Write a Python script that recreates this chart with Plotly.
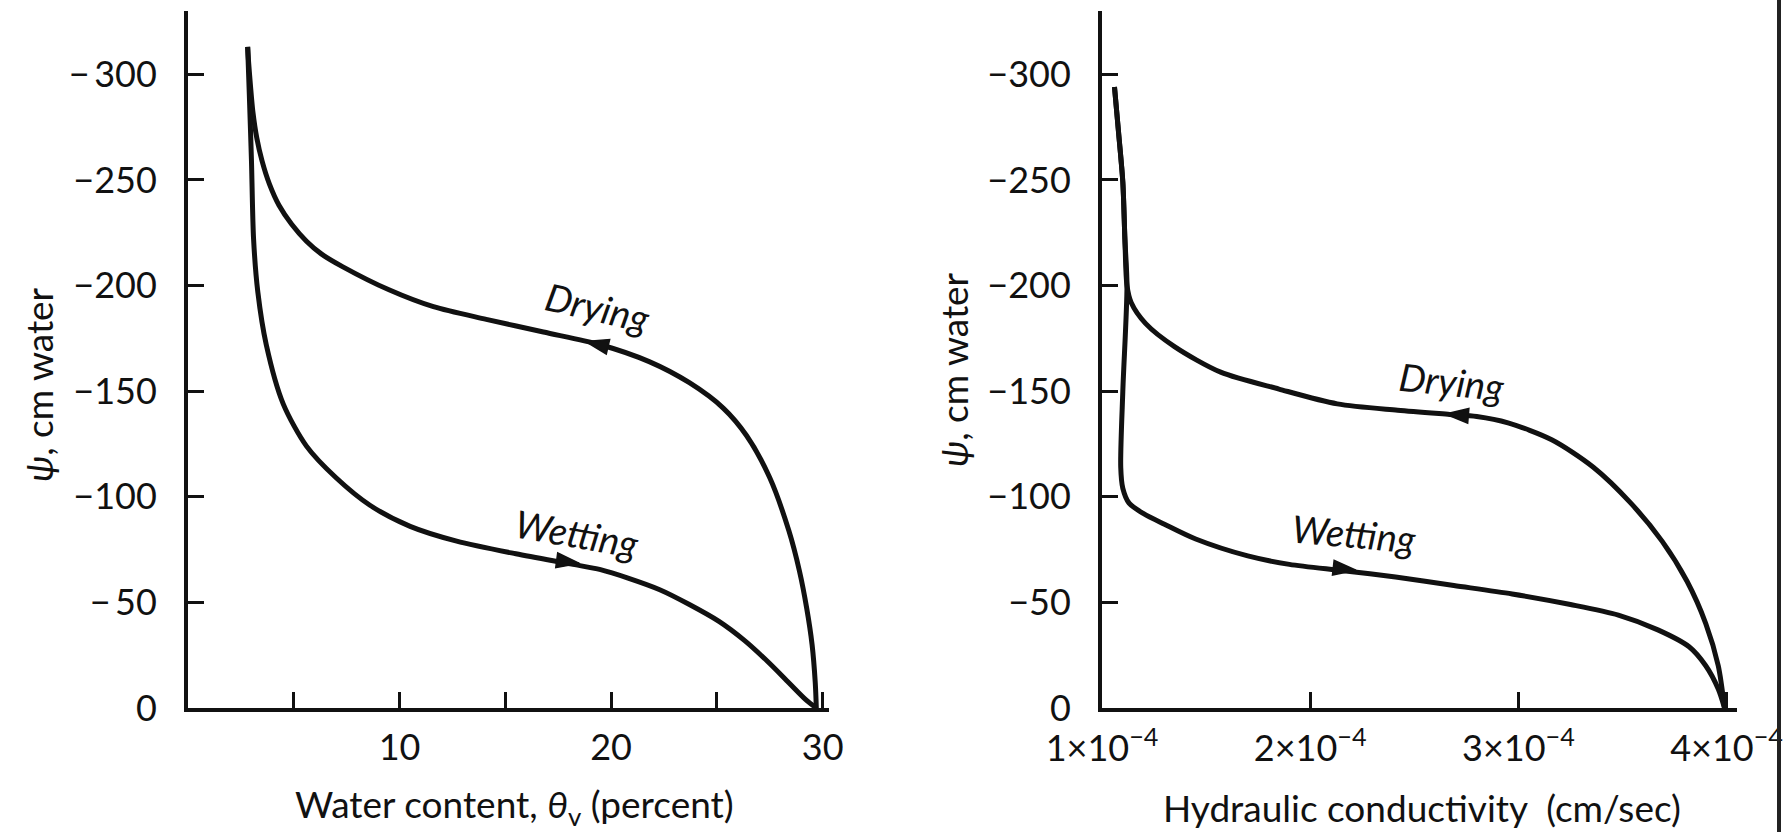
import plotly.graph_objects as go

# ---------------- data ----------------
# Left panel: water content theta_v (percent) vs psi (cm water)
theta_drying = [29.7, 29.65, 29.5, 29.25, 28.9, 28.4, 27.5, 26.4, 25.3, 23.7, 21.8, 19.5,
                16.8, 14.1, 11.6, 9.5, 7.3, 6.3, 5.6, 4.9, 4.3, 3.85, 3.5, 3.25, 3.07,
                2.95, 2.87, 2.82]
psi_theta_drying = [0, -12, -30, -47, -65, -84, -109, -129, -142, -154, -164, -172,
                    -178, -184, -190, -198, -209, -215, -221, -229, -238, -248, -259, -270, -282,
                    -295, -305, -313]

theta_wetting = [2.82, 2.9, 3.0, 3.1, 3.3, 3.7, 4.5, 5.6, 7.0, 8.6, 10.5, 12.7,
                 15.5, 18.2, 19.5, 20.8, 22.3, 23.7, 25.1, 26.3, 27.4, 28.4, 29.2, 29.7]
psi_theta_wetting = [-313, -290, -259, -222, -197, -172, -144, -124, -109, -96, -86, -79,
                     -73, -68, -65.5, -61.5, -56, -49, -41, -32, -22, -12, -4, 0]

# Right panel: hydraulic conductivity (cm/sec) vs psi (cm water)
k_drying = [3.99e-4, 3.96e-4, 3.90e-4, 3.81e-4, 3.69e-4, 3.54e-4, 3.36e-4, 3.16e-4,
            2.95e-4, 2.80e-4, 2.67e-4, 2.42e-4, 2.13e-4, 1.85e-4, 1.57e-4, 1.35e-4,
            1.21e-4, 1.14e-4, 1.12e-4, 1.11e-4, 1.10e-4, 1.08e-4, 1.06e-4]
psi_k_drying = [0, -20, -40, -60, -79, -97, -114, -127,
                -135, -138, -139, -141, -144, -151, -159, -171,
                -182, -192, -200, -222, -249, -272, -294]

k_wetting = [1.06e-4, 1.08e-4, 1.10e-4, 1.11e-4, 1.12e-4, 1.10e-4, 1.09e-4, 1.10e-4,
             1.13e-4, 1.20e-4, 1.30e-4, 1.45e-4, 1.70e-4, 1.90e-4, 2.16e-4, 2.41e-4,
             2.69e-4, 2.97e-4, 3.25e-4, 3.48e-4, 3.67e-4, 3.82e-4, 3.90e-4, 3.96e-4,
             3.99e-4]
psi_k_wetting = [-294, -272, -249, -222, -200, -150, -114, -104,
                 -97, -92, -87, -80, -72, -68, -65, -62,
                 -58, -54, -49, -44, -37, -29, -20, -9,
                 0]

# direction arrows: (tail, tip) pairs lying on the curves
arrow_theta_drying_x = [20.3, 18.8]
arrow_theta_drying_y = [-170.0, -173.5]
arrow_theta_wetting_x = [17.0, 18.5]
arrow_theta_wetting_y = [-70.5, -68.5]
arrow_k_drying_x = [2.85e-4, 2.65e-4]
arrow_k_drying_y = [-137.6, -139.2]
arrow_k_wetting_x = [2.04e-4, 2.22e-4]
arrow_k_wetting_y = [-67.2, -65.2]

psi_ticks = [0, -50, -100, -150, -200, -250, -300]
psi_labels_left = ["0", "\u2212\u200950", "\u2212100", "\u2212150", "\u2212200", "\u2212250", "\u2212\u2009300"]
psi_labels_right = ["0", "\u221250", "\u2212100", "\u2212150", "\u2212200", "\u2212250", "\u2212300"]

theta_ticks = [10, 20, 30]
theta_labels = ["10", "20", "30"]
theta_minor_start, theta_minor_step = 5, 10

k_ticks = [1e-4, 2e-4, 3e-4, 4e-4]
k_labels = ["1\u00d710<sup>\u22124</sup>", "2\u00d710<sup>\u22124</sup>",
            "3\u00d710<sup>\u22124</sup>", "4\u00d710<sup>\u22124</sup>"]

# ---------------- figure ----------------
W, H = 1784, 832
FONT = "Lato"
INK = "#111111"

fig = go.Figure()
line_style = dict(color=INK, width=5, shape="spline", smoothing=0.8)

fig.add_trace(go.Scatter(x=theta_drying, y=psi_theta_drying, mode="lines",
                         line=line_style, name="Drying", xaxis="x", yaxis="y"))
fig.add_trace(go.Scatter(x=theta_wetting, y=psi_theta_wetting, mode="lines",
                         line=line_style, name="Wetting", xaxis="x", yaxis="y"))
fig.add_trace(go.Scatter(x=k_drying, y=psi_k_drying, mode="lines",
                         line=line_style, name="Drying", xaxis="x2", yaxis="y2"))
fig.add_trace(go.Scatter(x=k_wetting, y=psi_k_wetting, mode="lines",
                         line=line_style, name="Wetting", xaxis="x2", yaxis="y2"))

arrow_marker = dict(symbol="arrow", size=[0, 24], angleref="previous", color=INK,
                    opacity=1, line=dict(width=1.5, color=INK))
for ax_x, ax_y, xa, ya in [
    (arrow_theta_drying_x, arrow_theta_drying_y, "x", "y"),
    (arrow_theta_wetting_x, arrow_theta_wetting_y, "x", "y"),
    (arrow_k_drying_x, arrow_k_drying_y, "x2", "y2"),
    (arrow_k_wetting_x, arrow_k_wetting_y, "x2", "y2"),
]:
    fig.add_trace(go.Scatter(x=ax_x, y=ax_y, mode="markers", marker=arrow_marker,
                             xaxis=xa, yaxis=ya, hoverinfo="skip"))


def px(v):
    return v / W


def py(v):
    return 1 - v / H


ydom = [py(708), py(11)]
tickfont = dict(family=FONT, size=36, color=INK)
common_axis = dict(showline=True, linecolor=INK, linewidth=4, showgrid=False,
                   zeroline=False, ticks="inside", ticklen=16, tickwidth=2.5,
                   tickcolor=INK, tickfont=tickfont, fixedrange=True, automargin=False)

fig.update_layout(
    width=W, height=H,
    margin=dict(l=0, r=0, t=0, b=0, pad=0, autoexpand=False),
    paper_bgcolor="white", plot_bgcolor="white",
    showlegend=False,
    font=dict(family=FONT, color=INK),
    xaxis=dict(domain=[px(188), px(829)], range=[0, 30.3], anchor="y",
               tickmode="array", tickvals=theta_ticks, ticktext=theta_labels,
               minor=dict(tickmode="linear", tick0=theta_minor_start, dtick=theta_minor_step,
                          ticks="inside", ticklen=16, tickwidth=2.5, tickcolor=INK,
                          showgrid=False),
               ticklabelstandoff=5, **common_axis),
    yaxis=dict(domain=ydom, range=[0, -330], anchor="x",
               tickmode="array", tickvals=psi_ticks, ticktext=psi_labels_left,
               ticklabelstandoff=20, **common_axis),
    xaxis2=dict(domain=[px(1102), px(1737)], range=[1.0e-4, 4.05e-4], anchor="y2",
                tickmode="array", tickvals=k_ticks, ticktext=k_labels,
                ticklabelstandoff=6, **common_axis),
    yaxis2=dict(domain=ydom, range=[0, -330], anchor="x2",
                tickmode="array", tickvals=psi_ticks, ticktext=psi_labels_right,
                ticklabelstandoff=20, **common_axis),
)

annots = []
title_font = dict(family=FONT, size=37, color=INK)
annots.append(dict(text="Water content, <i>\u03b8</i><sub>v</sub> (percent)", x=px(514), y=py(806),
                   xref="paper", yref="paper", showarrow=False, font=title_font,
                   xanchor="center", yanchor="middle"))
annots.append(dict(text="Hydraulic conductivity  (cm/sec)", x=px(1422), y=py(807),
                   xref="paper", yref="paper", showarrow=False, font=title_font,
                   xanchor="center", yanchor="middle"))
annots.append(dict(text="<i>\u03c8</i>, cm water", x=px(38), y=py(385),
                   xref="paper", yref="paper", showarrow=False, font=title_font,
                   textangle=-90, xanchor="center", yanchor="middle"))
annots.append(dict(text="<i>\u03c8</i>, cm water", x=px(953), y=py(370),
                   xref="paper", yref="paper", showarrow=False, font=title_font,
                   textangle=-90, xanchor="center", yanchor="middle"))

lab_font = dict(family=FONT, size=38, color=INK)
annots.append(dict(text="<i>Drying</i>", x=19.4, y=-190, xref="x", yref="y",
                   showarrow=False, font=lab_font, textangle=13))
annots.append(dict(text="<i>Wetting</i>", x=18.4, y=-83, xref="x", yref="y",
                   showarrow=False, font=lab_font, textangle=10))
annots.append(dict(text="<i>Drying</i>", x=2.68e-4, y=-155, xref="x2", yref="y2",
                   showarrow=False, font=lab_font, textangle=6))
annots.append(dict(text="<i>Wetting</i>", x=2.21e-4, y=-83, xref="x2", yref="y2",
                   showarrow=False, font=lab_font, textangle=5))

fig.update_layout(annotations=annots)

# scan edge line at the right border of the reference picture
fig.add_shape(type="line", xref="paper", yref="paper", x0=px(1779), x1=px(1779),
              y0=py(0), y1=py(832), line=dict(color="#222222", width=4))

fig.write_html("out.html",
               config={"displayModeBar": False},
               post_script="document.body.style.margin='0px';"
                           "document.body.style.overflow='hidden';")
